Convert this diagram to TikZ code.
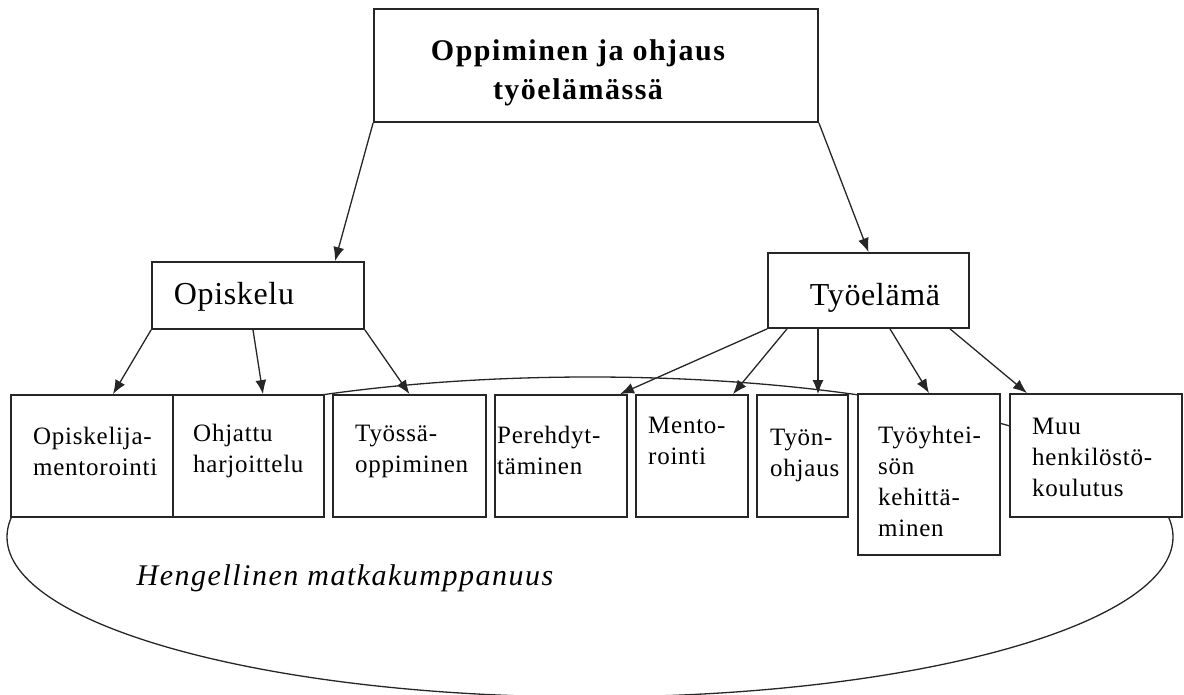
\documentclass[tikz,border=0pt]{standalone}
\usepackage{fontspec}
\setmainfont{Liberation Serif}
\usepackage[svgnames]{xcolor}
\usetikzlibrary{
  arrows.meta}

\begin{document}
\begin{tikzpicture}[x=1pt,y=-1pt]
\tikzset{
  frame/.style={
    draw=black!85,
    fill=white,
    line width=1.8pt,
    inner sep=0pt},
  link/.style={
    draw=black!85,
    line width=1.3pt,
    -{Latex[length=14pt,width=11pt]}},
  boxtext/.style={
    anchor=west,
    inner sep=0pt,
    align=left,
    font=\fontsize{25}{31}\selectfont\addfontfeature{LetterSpace=3}},
}

\useasboundingbox (0,0) rectangle (1184,695);
\clip (0,0) rectangle (1184,695);

\path[
  draw=black!85,
  line width=1.3pt] (590,537) ellipse[x radius=583, y radius=160];

\node[frame, minimum width=444pt, minimum height=113pt] (top) at (596,65.5) {};
\node[frame, minimum width=212pt, minimum height=67pt] (opis) at (258,295.5) {};
\node[frame, minimum width=201pt, minimum height=75pt] (tyoe) at (868.5,290.5) {};

\node[frame, minimum width=162pt, minimum height=122pt] (b1) at (92,456) {};
\node[frame, minimum width=151pt, minimum height=122pt] (b2) at (248.5,456) {};
\node[frame, minimum width=153pt, minimum height=122pt] (b3) at (409.5,456) {};
\node[frame, minimum width=132pt, minimum height=122pt] (b4) at (561,456) {};
\node[frame, minimum width=112pt, minimum height=122pt] (b5) at (692,456) {};
\node[frame, minimum width=91pt, minimum height=122pt] (b6) at (802.5,456) {};
\node[frame, minimum width=142pt, minimum height=161pt] (b7) at (929,474.5) {};
\node[frame, minimum width=172pt, minimum height=123pt] (b8) at (1096,455.5) {};

\node[
  align=center,
  inner sep=0pt,
  font=\fontsize{30}{39}\selectfont\bfseries\addfontfeature{LetterSpace=5}]
  (ttl) at (578,73) {Oppiminen ja ohjaus\\työelämässä};
\node[
  inner sep=0pt,
  font=\fontsize{32}{36}\selectfont\addfontfeature{LetterSpace=2}]
  (topis) at (234,297) {Opiskelu};
\node[
  inner sep=0pt,
  font=\fontsize{32}{36}\selectfont\addfontfeature{LetterSpace=2}]
  (ttyoe) at (875,298) {Työelämä};

\node[boxtext] (t1) at (33,451) {Opiskelija-\\mentorointi};
\node[boxtext] (t2) at (193,451) {Ohjattu\\harjoittelu};
\node[boxtext] (t3) at (355,451) {Työssä-\\oppiminen};
\node[boxtext] (t4) at (497,450) {Perehdyt-\\täminen};
\node[boxtext] (t5) at (648,441) {Mento-\\rointi};
\node[boxtext] (t6) at (770,455) {Työn-\\ohjaus};
\node[boxtext] (t7) at (878,481) {Työyhtei-\\sön\\kehittä-\\minen};
\node[boxtext] (t8) at (1032,457) {Muu\\henkilöstö-\\koulutus};

\node[
  inner sep=0pt,
  font=\fontsize{30}{34}\selectfont\itshape\addfontfeature{LetterSpace=5}]
  (hmk) at (345,578) {Hengellinen matkakumppanuus};

\path[link] (top.south west) -- ([xshift=77pt]opis.north);
\path[link] (top.south east) -- (tyoe.north);

\path[link] (opis.south west) -- ([xshift=21pt]b1.north);
\path[link] ([xshift=-5pt]opis.south) -- ([xshift=14.5pt]b2.north);
\path[link] (opis.south east) -- (b3.north);

\path[link] (tyoe.south west) -- ([xshift=59pt]b4.north);
\path[link] ([xshift=-81.5pt]tyoe.south) -- ([xshift=41pt]b5.north);
\path[link] ([xshift=-50.5pt]tyoe.south) -- ([xshift=15.5pt]b6.north);
\path[link] ([xshift=21.5pt]tyoe.south) -- (b7.north);
\path[link] ([xshift=81.5pt]tyoe.south) -- ([xshift=-69pt]b8.north);
\end{tikzpicture}
\end{document}
